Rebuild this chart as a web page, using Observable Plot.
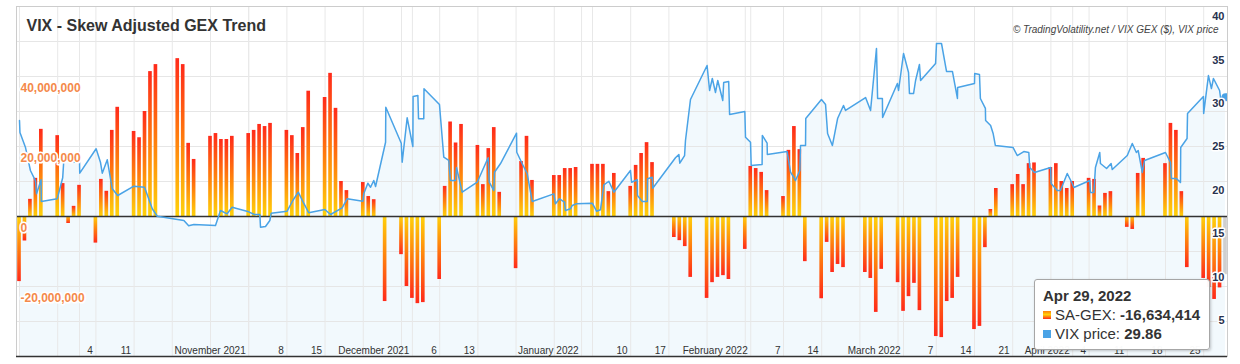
<!DOCTYPE html>
<html>
<head>
<meta charset="utf-8">
<script src="https://cdn.jsdelivr.net/npm/d3@7"></script>
<script src="https://cdn.jsdelivr.net/npm/@observablehq/plot@0.6"></script>
<style>
  body { margin: 0; background: #fff; font-family: "Liberation Sans", Arial, sans-serif; }
  #wrap { position: relative; width: 1240px; height: 364px; overflow: hidden; }
  #tip { position: absolute; left: 1034px; top: 279px; width: 176px; height: 71px; box-sizing: border-box;
         background: rgba(255,255,255,0.97); border: 1px solid #a6a6a6; border-radius: 3px;
         box-shadow: 1px 1px 3px rgba(0,0,0,0.22); padding: 6px 0 0 8px; font-size: 15px; line-height: 19px; color: #333; white-space: nowrap; }
  #tip .row3 { line-height: 17px; margin-top: 1px; }
  #tip .sw { display: inline-block; width: 8px; height: 8px; margin-right: 4px; vertical-align: 1px; }
</style>
</head>
<body>
<svg width="0" height="0" style="position:absolute">
  <defs>
    <linearGradient id="gpos" x1="0" y1="0" x2="0" y2="1">
      <stop offset="0" stop-color="#ff2a1a"/><stop offset="0.5" stop-color="#ff7d0d"/><stop offset="1" stop-color="#ffd20a"/>
    </linearGradient>
    <linearGradient id="gneg" x1="0" y1="1" x2="0" y2="0">
      <stop offset="0" stop-color="#ff2a1a"/><stop offset="0.5" stop-color="#ff7d0d"/><stop offset="1" stop-color="#ffd20a"/>
    </linearGradient>
  </defs>
</svg>
<div id="wrap"></div>
<script>
// ---------- data ----------
const title = "VIX - Skew Adjusted GEX Trend";
const credit = "© TradingVolatility.net / VIX GEX ($), VIX price";

const tradeDates = [
  "2021-09-20","2021-09-21","2021-09-22","2021-09-23","2021-09-24",
  "2021-09-27","2021-09-28","2021-09-29","2021-09-30","2021-10-01",
  "2021-10-04","2021-10-05","2021-10-06","2021-10-07","2021-10-08",
  "2021-10-11","2021-10-12","2021-10-13","2021-10-14","2021-10-15",
  "2021-10-19","2021-10-20","2021-10-21","2021-10-22",
  "2021-10-25","2021-10-26","2021-10-27","2021-10-28","2021-10-29",
  "2021-11-01","2021-11-02","2021-11-03","2021-11-04","2021-11-05",
  "2021-11-08","2021-11-09","2021-11-10","2021-11-11","2021-11-12",
  "2021-11-15","2021-11-16","2021-11-17","2021-11-18","2021-11-19",
  "2021-11-22","2021-11-23","2021-11-24","2021-11-26",
  "2021-11-29","2021-11-30","2021-12-01","2021-12-02","2021-12-03",
  "2021-12-06","2021-12-07","2021-12-08","2021-12-09","2021-12-10",
  "2021-12-13","2021-12-14","2021-12-15","2021-12-16","2021-12-17",
  "2021-12-20","2021-12-21","2021-12-22","2021-12-23",
  "2021-12-27","2021-12-28","2021-12-29","2021-12-30","2021-12-31",
  "2022-01-03","2022-01-04","2022-01-05","2022-01-06","2022-01-07",
  "2022-01-10","2022-01-11","2022-01-12","2022-01-13","2022-01-14",
  "2022-01-18","2022-01-19","2022-01-20","2022-01-21",
  "2022-01-24","2022-01-25","2022-01-26","2022-01-27","2022-01-28",
  "2022-01-31","2022-02-01","2022-02-02","2022-02-03","2022-02-04",
  "2022-02-07","2022-02-08","2022-02-09","2022-02-10","2022-02-11",
  "2022-02-14","2022-02-15","2022-02-16","2022-02-17","2022-02-18",
  "2022-02-22","2022-02-23","2022-02-24","2022-02-25",
  "2022-02-28","2022-03-01","2022-03-02","2022-03-03","2022-03-04",
  "2022-03-07","2022-03-08","2022-03-09","2022-03-10","2022-03-11",
  "2022-03-14","2022-03-15","2022-03-16","2022-03-17","2022-03-18",
  "2022-03-21","2022-03-22","2022-03-23","2022-03-24","2022-03-25",
  "2022-03-28","2022-03-29","2022-03-30","2022-03-31","2022-04-01",
  "2022-04-04","2022-04-05","2022-04-06","2022-04-07","2022-04-08",
  "2022-04-11","2022-04-12","2022-04-13","2022-04-14",
  "2022-04-18","2022-04-19","2022-04-20","2022-04-21","2022-04-22",
  "2022-04-25","2022-04-26","2022-04-27","2022-04-28","2022-04-29"
];

const saGex = [
  -18600000, -7000000, 4900000, 10900000, 24900000,
  23100000, 9400000, -2000000, 2900000, 8900000,
  -7600000, 10600000, 7200000, 24600000, 31200000,
  24300000, 22500000, 30000000, 41400000, 43400000,
  45100000, 43400000, 20900000, 16300000,
  22900000, 23700000, 22000000, 22000000, 22900000,
  23700000, 24600000, 26300000, 25700000, 26600000,
  24600000, 23100000, 18000000, 25400000, 35800000,
  34000000, 40900000, 30900000, 10000000, 7400000,
  9700000, 5700000, 4800000, -24300000,
  -10900000, -20000000, -23400000, -24900000, -24600000,
  -18000000, 8600000, 27000000, 21000000, 26300000,
  20300000, 9100000, 19400000, 25400000, 6900000,
  -14900000, 15700000, 22900000, 10300000,
  11700000, 11700000, 13700000, 13700000, 14000000,
  14900000, 14900000, 14900000, 7100000, 12300000,
  8600000, 14600000, 18000000, 21100000, 15400000,
  -6000000, -6900000, -8600000, -17400000,
  -23400000, -18900000, -17400000, -16900000, -18000000,
  -9400000, 14300000, 13700000, 12600000, 7400000,
  5700000, 18900000, 25700000, 19100000, -12900000,
  -23500000, -7400000, -16000000, -13700000, -14600000,
  -16000000, -17700000, -27400000, -15100000,
  -18900000, -27100000, -22900000, -19100000, -26900000,
  -34300000, -34600000, -24300000, -23400000, -17400000,
  -32300000, -31400000, -8900000, 2000000, 8000000,
  9100000, 12000000, 9100000, 15100000, 15300000,
  14000000, 15100000, 10000000, 8000000, 10000000,
  10900000, 10600000, 3000000, 6600000, 7100000,
  -3100000, -3700000, 12300000, 16600000,
  15100000, 26600000, 24600000, 7100000, -14600000,
  -17700000, -20300000, -23700000, -20400000, -16634414
];

const vixTimes = [
  "2021-09-20 00","2021-09-20 02","2021-09-21 02","2021-09-22 00","2021-09-22 22","2021-09-23 03","2021-09-23 23","2021-09-24 00",
  "2021-09-26 22","2021-09-27 22","2021-09-28 03","2021-09-30 02","2021-10-01 00","2021-10-01 01","2021-10-04 01","2021-10-04 20",
  "2021-10-05 04","2021-10-06 02","2021-10-07 00","2021-10-08 00","2021-10-10 23","2021-10-12 22","2021-10-14 08","2021-10-15 06",
  "2021-10-20 03","2021-10-21 00","2021-10-21 23","2021-10-25 22","2021-10-26 20","2021-10-28 01","2021-10-28 23","2021-11-01 00",
  "2021-11-02 01","2021-11-03 01","2021-11-03 04","2021-11-04 02","2021-11-04 21","2021-11-05 03","2021-11-08 01","2021-11-09 02",
  "2021-11-10 02","2021-11-11 02","2021-11-12 00","2021-11-14 23","2021-11-16 00","2021-11-18 03","2021-11-19 01","2021-11-21 22",
  "2021-11-22 02","2021-11-22 20","2021-11-23 08","2021-11-23 22","2021-11-24 06","2021-11-26 02","2021-11-26 03","2021-11-28 23",
  "2021-11-29 03","2021-11-30 01","2021-12-01 02","2021-12-01 03","2021-12-02 00","2021-12-02 03","2021-12-03 02","2021-12-03 03",
  "2021-12-05 23","2021-12-06 18","2021-12-07 16","2021-12-07 23","2021-12-08 22","2021-12-09 02","2021-12-10 03","2021-12-12 21",
  "2021-12-14 21","2021-12-15 02","2021-12-15 22","2021-12-16 01","2021-12-17 03","2021-12-20 02","2021-12-20 03","2021-12-21 03",
  "2021-12-22 01","2021-12-22 23","2021-12-26 22","2021-12-27 05","2021-12-27 23","2021-12-28 21","2021-12-29 01","2021-12-29 23",
  "2021-12-30 07","2021-12-31 00","2022-01-02 23","2022-01-03 18","2022-01-04 11","2022-01-05 02","2022-01-06 00","2022-01-06 22",
  "2022-01-09 23","2022-01-10 04","2022-01-11 05","2022-01-11 06","2022-01-12 03","2022-01-13 01","2022-01-13 02","2022-01-13 23",
  "2022-01-14 01","2022-01-18 05","2022-01-18 20","2022-01-19 00","2022-01-19 21","2022-01-20 01","2022-01-20 23","2022-01-24 00",
  "2022-01-24 11","2022-01-24 23","2022-01-25 13","2022-01-25 23","2022-01-26 21","2022-01-27 01","2022-01-27 23","2022-01-28 03",
  "2022-01-30 22","2022-01-31 01","2022-01-31 23","2022-02-01 02","2022-02-03 02","2022-02-03 03","2022-02-04 00","2022-02-04 01",
  "2022-02-07 16","2022-02-08 07","2022-02-08 21","2022-02-09 05","2022-02-10 00","2022-02-10 03","2022-02-11 01","2022-02-11 02",
  "2022-02-13 23","2022-02-14 17","2022-02-15 02","2022-02-15 23","2022-02-16 22","2022-02-18 00","2022-02-18 09","2022-02-22 01",
  "2022-02-22 23","2022-02-24 01","2022-02-24 06","2022-02-25 03","2022-02-25 04","2022-02-27 21","2022-02-28 02","2022-03-01 00",
  "2022-03-01 22","2022-03-02 02","2022-03-02 20","2022-03-03 05","2022-03-03 22","2022-03-04 03","2022-03-06 21","2022-03-07 01",
  "2022-03-07 23","2022-03-08 21","2022-03-09 23","2022-03-10 21","2022-03-10 22","2022-03-14 00","2022-03-14 01","2022-03-14 22",
  "2022-03-15 02","2022-03-16 00","2022-03-16 01","2022-03-16 23","2022-03-17 10","2022-03-17 20","2022-03-21 02","2022-03-21 20",
  "2022-03-23 01","2022-03-23 23","2022-03-24 03","2022-03-25 00","2022-03-27 23","2022-03-28 01","2022-03-29 04","2022-03-29 18",
  "2022-03-31 00","2022-03-31 22","2022-04-01 05","2022-04-04 03","2022-04-04 06","2022-04-04 21","2022-04-05 04","2022-04-05 23",
  "2022-04-06 02","2022-04-07 05","2022-04-08 01","2022-04-08 06","2022-04-11 00","2022-04-11 22","2022-04-12 16","2022-04-13 00",
  "2022-04-13 18","2022-04-14 04","2022-04-18 00","2022-04-18 22","2022-04-19 02","2022-04-20 00","2022-04-20 18","2022-04-20 19",
  "2022-04-21 23","2022-04-22 01","2022-04-24 23","2022-04-25 00","2022-04-25 21","2022-04-26 10","2022-04-26 19","2022-04-27 22",
  "2022-04-28 02","2022-04-29 00"
];

const vixPrices = [
  27.17,25.79,24.10,21.42,20.26,18.73,20.35,17.85,
  18.16,20.58,22.65,22.37,22.45,21.11,23.92,22.37,
  21.11,22.65,19.31,18.54,19.61,19.49,17.01,16.15,
  15.66,15.05,15.20,15.08,16.81,16.43,17.19,16.66,
  16.35,16.35,14.89,14.97,15.66,16.50,16.73,17.96,
  18.92,17.65,16.55,16.93,16.35,17.12,18.16,17.88,
  18.73,19.95,19.49,20.26,19.57,24.67,28.70,24.56,
  22.37,27.48,24.18,29.94,30.05,27.37,27.37,30.82,
  29.02,22.95,22.57,20.26,20.26,21.76,18.92,20.07,
  22.88,20.07,19.11,21.22,22.19,25.71,23.52,22.19,
  21.04,17.85,18.73,17.58,18.16,17.77,16.81,17.01,
  17.39,17.58,17.65,16.73,16.89,19.77,20.18,18.92,
  21.42,20.07,20.35,18.54,17.85,17.85,20.46,20.64,
  19.38,22.88,23.26,22.26,23.14,24.87,29.59,33.51,
  30.63,32.01,30.40,31.78,29.48,31.55,31.66,27.86,
  28.21,25.25,24.67,21.99,22.11,25.45,24.56,23.26,
  23.60,21.22,20.64,20.26,21.42,24.29,24.29,27.40,
  29.59,29.02,25.68,24.29,27.40,28.90,28.33,29.82,
  28.33,35.46,29.71,29.71,27.52,31.43,30.63,34.89,
  32.70,30.28,30.28,31.78,33.62,31.78,33.74,36.04,
  36.04,32.82,32.82,29.71,30.97,31.43,32.58,32.47,
  29.71,28.56,27.17,26.60,25.68,24.29,24.06,23.14,
  23.60,23.49,21.76,21.19,21.76,19.92,19.11,19.11,
  21.07,19.92,19.46,20.26,18.88,18.88,21.76,23.49,
  22.22,21.65,22.22,21.53,23.14,24.53,23.49,23.72,
  21.19,22.57,23.49,22.34,20.50,20.50,20.03,24.06,
  25.10,27.98,29.94,27.98,32.35,30.86,32.01,30.63,
  29.82,29.86
];

const leftTicks = [40000000, 20000000, 0, -20000000];
const rightTicks = [5, 10, 15, 20, 25, 30, 35, 40];
const xTickDates = ["2021-10-04","2021-10-11","2021-11-01","2021-11-08","2021-11-15","2021-12-01","2021-12-06","2021-12-13",
  "2022-01-01","2022-01-10","2022-01-17","2022-02-01","2022-02-07","2022-02-14","2022-03-01","2022-03-07","2022-03-14","2022-03-21",
  "2022-04-01","2022-04-04","2022-04-11","2022-04-18","2022-04-25"];
const xTickLabels = ["4","11","November 2021","8","15","December 2021","6","13",
  "January 2022","10","17","February 2022","7","14","March 2022","7","14","21",
  "April 2022","4","11","18","25"];

// ---------- scales / helpers ----------
const gexMin = -40000000, gexMax = 60000000;   // left axis extent
const vixMax = 40.3;                            // right axis extent (0 .. vixMax)
const toY = v => gexMin + v / vixMax * (gexMax - gexMin);
const parseDay = d3.utcParse("%Y-%m-%d");
const parseHour = d3.utcParse("%Y-%m-%d %H");
const fmt = d3.formatLocale({decimal: ".", thousands: ",", grouping: [3], currency: ["$", ""], minus: "-"}).format(",");

const bars = tradeDates.map((d, i) => ({date: parseDay(d), v: saGex[i]}));
const last = bars[bars.length - 1];
const vix = vixTimes.map((t, i) => ({t: parseHour(t), v: vixPrices[i]}));
const lastVix = vix[vix.length - 1];
const xTicks = xTickDates.map((d, i) => ({date: parseDay(d), label: xTickLabels[i]}));
const start = bars[0].date, end = last.date;
const gridDates = d3.utcMonday.range(start, d3.utcDay.offset(end, 1))
  .concat(d3.utcMonth.range(start, d3.utcDay.offset(end, 1)));

const bx1 = d => d3.utcHour.offset(d.date, -8);
const bx2 = d => d3.utcHour.offset(d.date, 8);

const chart = Plot.plot({
  width: 1240, height: 364,
  marginLeft: 16, marginRight: 13, marginTop: 6, marginBottom: 8,
  style: {fontFamily: "'Liberation Sans', Arial, sans-serif", background: "white", overflow: "visible"},
  x: {type: "utc", domain: [start, end], range: [19, 1225], axis: null},
  y: {domain: [gexMin, gexMax], axis: null},
  marks: [
    Plot.areaY(vix, {x: "t", y1: gexMin, y2: d => toY(d.v), fill: "#4aa3e6", fillOpacity: 0.07}),
    Plot.ruleY(d3.range(gexMin + 10000000, gexMax, 10000000), {stroke: "#e6e6e6"}),
    Plot.ruleX(gridDates, {stroke: "#e8e8e8"}),
    Plot.rect(bars.filter(d => d.v > 0 && d !== last), {x1: bx1, x2: bx2, y1: 0, y2: "v", fill: "url(#gpos)"}),
    Plot.rect(bars.filter(d => d.v < 0 && d !== last), {x1: bx1, x2: bx2, y1: 0, y2: "v", fill: "url(#gneg)"}),
    Plot.rect([last], {x1: bx1, x2: bx2, y1: 0, y2: "v", fill: "#cfcfcf", clip: true}),
    Plot.ruleY([0], {stroke: "#333", strokeWidth: 1.5}),
    Plot.line(vix, {x: "t", y: d => toY(d.v), stroke: "#4aa3e6", strokeWidth: 1.5}),
    Plot.dot([lastVix], {x: "t", y: d => toY(d.v), r: 4, fill: "#4aa3e6", stroke: "none", clip: true}),
    Plot.frame({stroke: "#cccccc"}),
    Plot.ruleY([gexMin], {stroke: "#333", strokeWidth: 1.5}),
    Plot.text(leftTicks, {y: d => d, text: d => fmt(d), frameAnchor: "left", textAnchor: "start", lineAnchor: "middle",
      dx: 4, dy: 11.5, fill: "#f4894a", stroke: "white", strokeWidth: 3, paintOrder: "stroke", fontSize: 12, fontWeight: "bold"}),
    Plot.text(rightTicks, {y: d => toY(d), text: d => String(d), frameAnchor: "right", textAnchor: "end", lineAnchor: "middle",
      dx: -3, dy: 7.5, fill: "#27324f", stroke: "white", strokeWidth: 3, paintOrder: "stroke", fontSize: 11, fontWeight: "bold"}),
    Plot.text(xTicks, {x: "date", text: "label", frameAnchor: "bottom", textAnchor: "end", lineAnchor: "middle",
      dx: -3, dy: -6, fill: "#333", fontSize: 10}),
    Plot.text([title], {text: d => d, frameAnchor: "top-left", textAnchor: "start", lineAnchor: "middle", dx: 10, dy: 19,
      fontSize: 16, fontWeight: "bold", fill: "#333"}),
    Plot.text([credit], {text: d => d, frameAnchor: "top-right", textAnchor: "end", lineAnchor: "middle", dx: -9, dy: 23,
      fontSize: 10, fontStyle: "italic", fill: "#444"})
  ]
});

const wrap = document.getElementById("wrap");
wrap.appendChild(chart);

// tooltip (hovered last point)
const tip = document.createElement("div");
tip.id = "tip";
tip.innerHTML =
  `<div style="font-weight:bold">${d3.utcFormat("%b %-d, %Y")(last.date)}</div>` +
  `<div><span class="sw" style="background:linear-gradient(#ff7d0d,#ffd20a 45%,#ff2a1a)"></span>SA-GEX: <b>${fmt(last.v)}</b></div>` +
  `<div class="row3"><span class="sw" style="background:#4aa3e6"></span>VIX price: <b>${lastVix.v.toFixed(2)}</b></div>`;
wrap.appendChild(tip);
</script>
</body>
</html>
